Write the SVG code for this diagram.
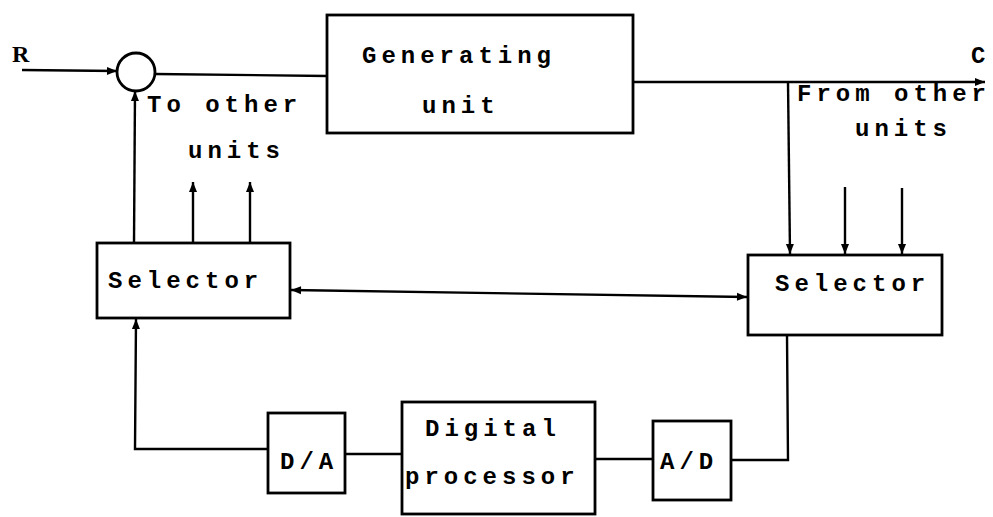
<svg xmlns="http://www.w3.org/2000/svg" width="993" height="517" viewBox="0 0 993 517">
<style>
.box{fill:#fff;stroke:#000;stroke-width:2.8}
.ln{fill:none;stroke:#000;stroke-width:2.4}
text{font-family:"Liberation Mono","DejaVu Sans Mono",monospace;font-weight:bold;font-size:24px;letter-spacing:5px;fill:#000}
</style>
<defs>
<marker id="ah" viewBox="0 0 10 10" refX="10" refY="5" markerWidth="12" markerHeight="10" markerUnits="userSpaceOnUse" orient="auto-start-reverse">
<path d="M0,1 L10,5 L0,9 z" fill="#000"/>
</marker>
</defs>
<g id="connectors">
<line class="ln" x1="22" y1="70" x2="117" y2="71" marker-end="url(#ah)"/>
<line class="ln" x1="155" y1="74" x2="327" y2="76"/>
<line class="ln" x1="633" y1="82" x2="985" y2="82" marker-end="url(#ah)"/>
<line class="ln" x1="788" y1="82" x2="790" y2="254" marker-end="url(#ah)"/>
<line class="ln" x1="845" y1="187" x2="845" y2="254" marker-end="url(#ah)"/>
<line class="ln" x1="902" y1="188" x2="902" y2="254" marker-end="url(#ah)"/>
<line class="ln" x1="134" y1="243" x2="135" y2="91" marker-end="url(#ah)"/>
<line class="ln" x1="193" y1="243" x2="193" y2="182" marker-end="url(#ah)"/>
<line class="ln" x1="250" y1="243" x2="250" y2="182" marker-end="url(#ah)"/>
<line class="ln" x1="291" y1="290" x2="747" y2="297" marker-start="url(#ah)" marker-end="url(#ah)"/>
<polyline class="ln" points="787,335 788,460 731,460"/>
<line class="ln" x1="653" y1="459" x2="595" y2="459"/>
<line class="ln" x1="345" y1="454" x2="402" y2="454"/>
<polyline class="ln" points="268,449 135,449 136,319" marker-end="url(#ah)"/>
</g>
<g id="R"><text x="12" y="62" style="font-family:'Liberation Serif',serif;letter-spacing:0">R</text></g>
<g id="C"><text x="971" y="63" style="letter-spacing:0">C</text></g>
<g id="sum"><circle cx="136" cy="72" r="19" fill="#fff" stroke="#000" stroke-width="2.8"/></g>
<g id="generating-unit">
<rect class="box" x="327" y="15" width="306" height="118"/>
<text x="362" y="63">Generating</text>
<text x="422" y="113">unit</text>
</g>
<g id="to-other-units">
<text x="147" y="112">To other</text>
<text x="188" y="158">units</text>
</g>
<g id="from-other-units">
<text x="797" y="101">From other</text>
<text x="855" y="136">units</text>
</g>
<g id="selector-left">
<rect class="box" x="97" y="243" width="193" height="75"/>
<text x="108" y="288">Selector</text>
</g>
<g id="selector-right">
<rect class="box" x="748" y="255" width="194" height="80"/>
<text x="775" y="291">Selector</text>
</g>
<g id="da">
<rect class="box" x="268" y="413" width="77" height="80"/>
<text x="280" y="469">D/A</text>
</g>
<g id="digital-processor">
<rect class="box" x="402" y="402" width="193" height="112"/>
<text x="425" y="436">Digital</text>
<text x="405" y="484">processor</text>
</g>
<g id="ad">
<rect class="box" x="653" y="421" width="78" height="79"/>
<text x="660" y="469">A/D</text>
</g>
</svg>
